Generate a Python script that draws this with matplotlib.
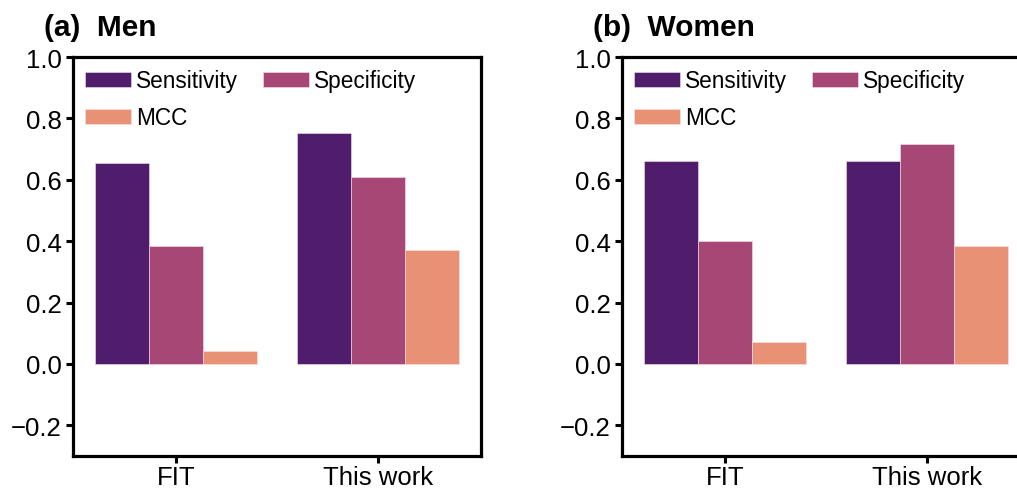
import matplotlib
matplotlib.use("Agg")
import matplotlib.pyplot as plt
import numpy as np

plt.rcParams['font.family'] = ['Liberation Sans', 'DejaVu Sans']

groups = ["FIT", "This work"]
metrics = ["Sensitivity", "Specificity", "MCC"]
men_sensitivity = [0.655, 0.754]
men_specificity = [0.384, 0.608]
men_mcc = [0.043, 0.370]
women_sensitivity = [0.662, 0.662]
women_specificity = [0.402, 0.715]
women_mcc = [0.070, 0.383]
titles = ["(a)  Men", "(b)  Women"]
colors = ["#501d6c", "#a64775", "#e99174"]
yticks = [-0.2, 0.0, 0.2, 0.4, 0.6, 0.8, 1.0]

W, H = 1017, 489
fig = plt.figure(figsize=(W / 100, H / 100), dpi=100)

def px_axes(x0, x1, y0, y1):
    return fig.add_axes([x0 / W, 1 - y1 / H, (x1 - x0) / W, (y1 - y0) / H])

ax1 = px_axes(73, 481, 58, 457)
ax2 = px_axes(622, 1030, 58, 457)

data = [
    [men_sensitivity, men_specificity, men_mcc],
    [women_sensitivity, women_specificity, women_mcc],
]

x = np.arange(len(groups))
bw = 0.8 / 3
for ax, series, title in zip([ax1, ax2], data, titles):
    handles = []
    for i, (vals, lab, col) in enumerate(zip(series, metrics, colors)):
        b = ax.bar(x + (i - 1) * bw, vals, width=bw, color=col, label=lab,
                   edgecolor="#f3e3ee", linewidth=0.4)
        handles.append(b)
    ax.set_xlim(-0.51, 1.51)
    ax.set_ylim(-0.3, 1.0)
    ax.set_yticks(yticks)
    ax.set_yticklabels([f"{t:.1f}".replace("-", "\u2212") for t in yticks])
    ax.set_xticks(x)
    ax.set_xticklabels(groups)
    ax.tick_params(axis='both', labelsize=18.5, width=2.2, length=5, direction='out')
    ax.tick_params(axis='y', pad=3)
    ax.tick_params(axis='x', pad=1.5)
    for sp in ax.spines.values():
        sp.set_linewidth(2.3)
    order = [0, 2, 1]
    ax.legend([handles[k] for k in order], [metrics[k] for k in order],
              loc='upper left', ncol=2, frameon=False, fontsize=16.3,
              handlelength=2.0, handleheight=0.68, handletextpad=0.25,
              columnspacing=1.1, labelspacing=0.62,
              borderaxespad=0.1, borderpad=0.45)
    ax.text(-0.07, 1.04, title, transform=ax.transAxes, fontsize=21.5,
            fontweight='bold', ha='left', va='bottom')

fig.savefig("out.png", dpi=100)
